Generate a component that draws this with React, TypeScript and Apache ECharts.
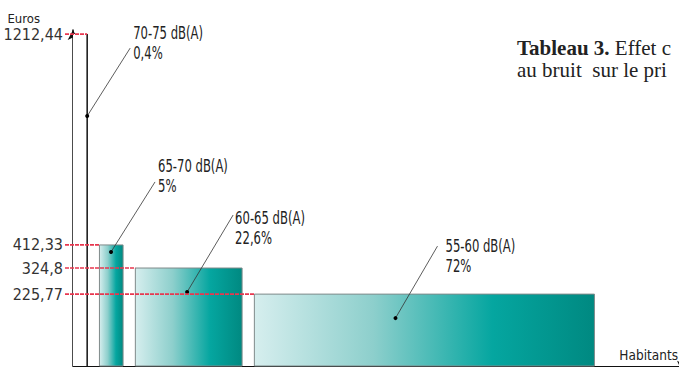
import React, { useEffect, useRef } from 'react';
import * as echarts from 'echarts';

// ---- data ----
const categories = ['70-75 dB(A)', '65-70 dB(A)', '60-65 dB(A)', '55-60 dB(A)'];
const shares = [0.4, 5, 22.6, 72]; // % of inhabitants (bar widths)
const prices = [1212.44, 412.33, 324.8, 225.77]; // euros (bar heights)
const yTickValues = [1212.44, 412.33, 324.8, 225.77];
const titleBold = 'Tableau 3.';
const titleRest = ' Effet c';
const titleLine2 = 'au bruit  sur le pri';

// ---- layout / style constants ----
const MIN_WIDTH = 3; // minimum drawn width, in % units
const GAP = 2.6; // gap between columns, in % units
const Y_MIN = -47;
const Y_MAX = 1228;
const X_MAX = 130;
// callout placement relative to each column: dot position, leader vector, text offset from dot
const calloutLayout = [
  { fx: 1, dotDy: 82, dx: 43, dy: -68, tdx: 46, tdy: -89 },
  { fx: 0.49, dotDy: 7, dx: 44, dy: -70, tdx: 47, tdy: -92 },
  { fx: 0.485, dotDy: 24, dx: 46, dy: -77, tdx: 48, tdy: -80 },
  { fx: 0.415, dotDy: 24, dx: 42, dy: -72, tdx: 50, tdy: -78 },
];
const outlineOnly = [true, false, false, false];

const fmt = (v: number) => String(v).replace('.', ',');

function measure(font: string, s: string): number {
  const ctx = document.createElement('canvas').getContext('2d');
  if (!ctx) return 0;
  ctx.font = font;
  return ctx.measureText(s).width;
}
function hasFont(name: string): boolean {
  const s = 'mmmmmmmmmmlli 0123456789 dB(A) Wwq';
  return (
    measure(`40px monospace`, s) !== measure(`40px '${name}', monospace`, s) ||
    measure(`40px serif`, s) !== measure(`40px '${name}', serif`, s)
  );
}

export default function App() {
  const ref = useRef<HTMLDivElement>(null);
  useEffect(() => {
    if (!ref.current) return;
    const candidates = ['Liberation Sans Narrow', 'DejaVu Sans Condensed', 'Roboto Condensed', 'Open Sans Condensed', 'Roboto'];
    const found = candidates.find((c) => hasFont(c)) || 'Liberation Sans';
    const NARROW = `'${found}', sans-serif`;
    // squeeze callout texts to the condensed width of the original lettering
    const natural = measure(`18px ${NARROW}`, '65-70 dB(A)') || 70;
    const squeeze = Math.min(1, 70 / natural);

    const chart = echarts.init(ref.current, undefined, { renderer: 'svg' });
    let start = 0;
    const items = shares.map((s, i) => {
      const w = Math.max(s, MIN_WIDTH);
      const it = [start, start + w, prices[i], i];
      start += w + GAP;
      return it;
    });
    const gradient = new echarts.graphic.LinearGradient(0, 0, 1, 0, [
      { offset: 0, color: '#d6eeee' },
      { offset: 0.35, color: '#8dcfcc' },
      { offset: 0.7, color: '#05a6a0' },
      { offset: 1, color: '#008981' },
    ]);
    chart.setOption({
      animation: false,
      backgroundColor: '#fff',
      grid: { left: 73, right: -8, top: 30, bottom: 1, containLabel: false, outerBoundsMode: 'none' },
      xAxis: {
        type: 'value',
        min: 0,
        max: X_MAX,
        name: 'Habitants',
        nameLocation: 'end',
        nameGap: -9,
        nameTextStyle: { fontFamily: NARROW, fontSize: 13.5, color: '#222', align: 'right', verticalAlign: 'bottom', padding: [0, 0, 4, 0] },
        axisLine: { onZero: false, symbol: ['none', 'arrow'], symbolSize: [8, 10], lineStyle: { color: '#111', width: 1 } },
        axisTick: { show: false },
        axisLabel: { show: false },
        splitLine: { show: false },
      },
      yAxis: {
        type: 'value',
        min: Y_MIN,
        max: Y_MAX,
        name: 'Euros',
        nameLocation: 'end',
        nameGap: 12,
        nameTextStyle: { fontFamily: NARROW, fontSize: 13, color: '#222', align: 'right', verticalAlign: 'middle', padding: [0, 33, 0, 0] },
        axisLine: { onZero: false, symbol: ['none', 'arrow'], symbolSize: [8, 10], lineStyle: { color: '#111', width: 1.5 } },
        axisTick: { show: false },
        splitLine: { show: false },
        axisLabel: {
          customValues: yTickValues,
          formatter: (v: number) => fmt(v),
          align: 'right',
          margin: 10,
          fontFamily: NARROW,
          fontSize: 16,
          color: '#333',
        },
      },
      graphic: [
        {
          type: 'text',
          left: 517,
          top: 37,
          style: {
            text: '{b|' + titleBold + '}' + titleRest + '\n' + titleLine2,
            fontFamily: "'Liberation Serif', 'Times New Roman', serif",
            fontSize: 21,
            lineHeight: 22,
            fill: '#222',
            rich: {
              b: { fontFamily: "'Liberation Serif', 'Times New Roman', serif", fontSize: 21, fontWeight: 'bold', fill: '#222', lineHeight: 22 },
            },
          },
        },
      ],
      series: [
        {
          type: 'custom',
          data: items,
          encode: { x: [0, 1], y: 2 },
          renderItem: (params: any, api: any) => {
            const i = params.dataIndex;
            const x0 = api.value(0);
            const x1 = api.value(1);
            const v = api.value(2);
            const tl = api.coord([x0, v]);
            const br = api.coord([x1, Y_MIN]);
            const axisX = api.coord([0, v])[0];
            const w = br[0] - tl[0];
            const h = br[1] - tl[1];
            const children: any[] = [];
            if (outlineOnly[i]) {
              children.push({ type: 'rect', shape: { x: tl[0], y: tl[1], width: w, height: h }, style: { fill: '#fff' } });
              children.push({ type: 'line', shape: { x1: br[0], y1: tl[1], x2: br[0], y2: br[1] }, style: { stroke: '#111', lineWidth: 1.5 } });
            } else {
              children.push({ type: 'rect', shape: { x: tl[0], y: tl[1], width: w, height: h }, style: { fill: gradient, stroke: '#7f8a8a', lineWidth: 1 } });
            }
            const redEnd = outlineOnly[i] ? br[0] : tl[0];
            children.push({ type: 'line', shape: { x1: axisX - 8, y1: tl[1], x2: redEnd, y2: tl[1] }, style: { stroke: '#e8374f', lineWidth: 1.7, lineDash: [4, 1] } });
            const c = calloutLayout[i];
            const px = tl[0] + c.fx * w;
            const py = tl[1] + c.dotDy;
            children.push({ type: 'line', shape: { x1: px, y1: py, x2: px + c.dx, y2: py + c.dy }, style: { stroke: '#333', lineWidth: 0.8 } });
            children.push({ type: 'circle', shape: { cx: px, cy: py, r: 2 }, style: { fill: '#000' } });
            children.push({
              type: 'text',
              x: px + c.tdx,
              y: py + c.tdy - 4,
              scaleX: squeeze,
              style: {
                text: categories[i] + '\n' + fmt(shares[i]) + '%',
                fontFamily: NARROW,
                fontSize: 18,
                lineHeight: 20,
                fill: '#222',
                align: 'left',
                verticalAlign: 'top',
              },
            });
            return { type: 'group', children };
          },
        },
      ],
    });
    return () => chart.dispose();
  }, []);
  return (
    <div
      ref={ref}
      style={{ position: 'fixed', left: 0, top: 0, width: 679, height: 367, background: '#fff' }}
    />
  );
}
